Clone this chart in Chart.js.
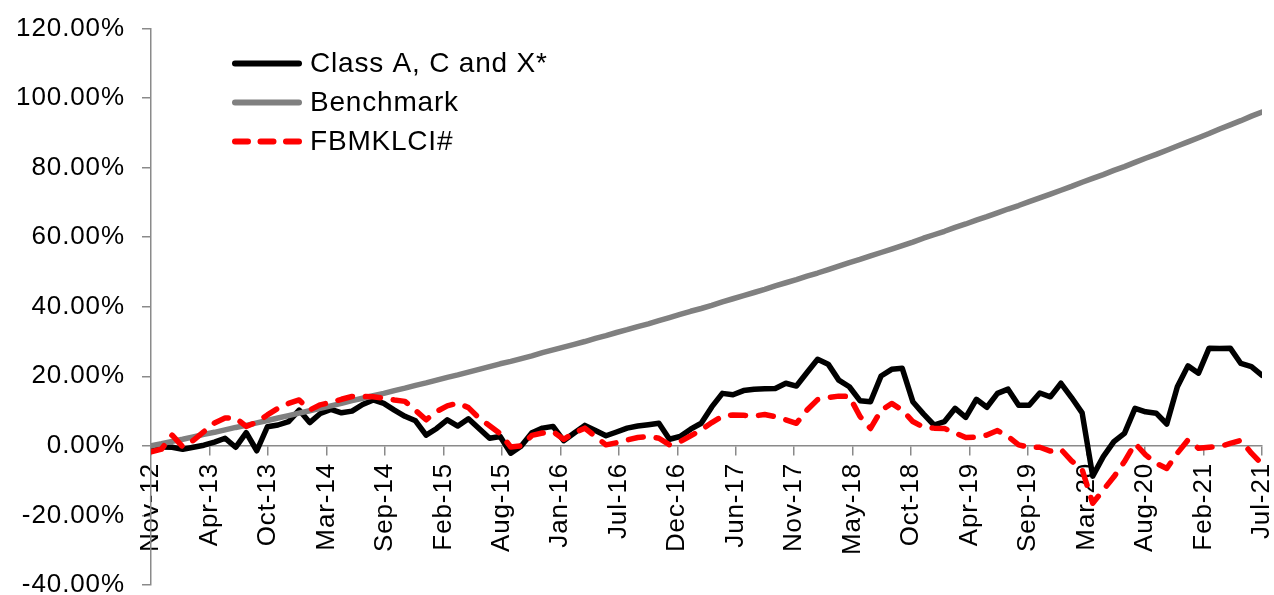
<!DOCTYPE html>
<html>
<head>
<meta charset="utf-8">
<script src="https://cdn.jsdelivr.net/npm/chart.js@4.4.1/dist/chart.umd.min.js"></script>
<style>
  html, body { margin: 0; padding: 0; background: #ffffff; }
  #wrap { width: 1274px; height: 595px; }
</style>
</head>
<body>
<div id="wrap"><canvas id="perf" width="1274" height="595"></canvas></div>
<script>
// Observation dates: inception, then month-ends
const dates = [
  '2012-11-01', '2012-11-30', '2012-12-31',
  '2013-01-31', '2013-02-28', '2013-03-31', '2013-04-30', '2013-05-31', '2013-06-30', '2013-07-31', '2013-08-31', '2013-09-30', '2013-10-31', '2013-11-30', '2013-12-31',
  '2014-01-31', '2014-02-28', '2014-03-31', '2014-04-30', '2014-05-31', '2014-06-30', '2014-07-31', '2014-08-31', '2014-09-30', '2014-10-31', '2014-11-30', '2014-12-31',
  '2015-01-31', '2015-02-28', '2015-03-31', '2015-04-30', '2015-05-31', '2015-06-30', '2015-07-31', '2015-08-31', '2015-09-30', '2015-10-31', '2015-11-30', '2015-12-31',
  '2016-01-31', '2016-02-29', '2016-03-31', '2016-04-30', '2016-05-31', '2016-06-30', '2016-07-31', '2016-08-31', '2016-09-30', '2016-10-31', '2016-11-30', '2016-12-31',
  '2017-01-31', '2017-02-28', '2017-03-31', '2017-04-30', '2017-05-31', '2017-06-30', '2017-07-31', '2017-08-31', '2017-09-30', '2017-10-31', '2017-11-30', '2017-12-31',
  '2018-01-31', '2018-02-28', '2018-03-31', '2018-04-30', '2018-05-31', '2018-06-30', '2018-07-31', '2018-08-31', '2018-09-30', '2018-10-31', '2018-11-30', '2018-12-31',
  '2019-01-31', '2019-02-28', '2019-03-31', '2019-04-30', '2019-05-31', '2019-06-30', '2019-07-31', '2019-08-31', '2019-09-30', '2019-10-31', '2019-11-30', '2019-12-31',
  '2020-01-31', '2020-02-29', '2020-03-31', '2020-04-30', '2020-05-31', '2020-06-30', '2020-07-31', '2020-08-31', '2020-09-30', '2020-10-31', '2020-11-30', '2020-12-31',
  '2021-01-31', '2021-02-28', '2021-03-31', '2021-04-30', '2021-05-31', '2021-06-30', '2021-07-31'
];

// Cumulative return, % since inception
const classACX = [
  0.0, -0.3, -0.4, -1.0, -0.4, 0.2, 1.1, 2.2, -0.4, 3.8,
  -1.4, 5.5, 6.0, 7.0, 10.3, 6.7, 9.3, 10.5, 9.5, 10.0,
  11.9, 13.2, 12.2, 10.3, 8.5, 7.2, 3.1, 5.0, 7.5, 5.7,
  7.8, 5.0, 2.2, 2.7, -2.1, 0.0, 3.8, 5.1, 5.6, 1.5,
  3.7, 5.9, 4.4, 2.9, 4.0, 5.1, 5.7, 6.1, 6.5, 1.9,
  2.7, 4.8, 6.5, 11.2, 15.1, 14.7, 15.9, 16.3, 16.4, 16.5,
  18.0, 17.2, 21.1, 24.9, 23.5, 18.9, 17.0, 13.0, 12.7, 20.1,
  22.0, 22.3, 12.7, 9.2, 6.0, 7.0, 10.8, 8.2, 13.4, 11.1,
  15.1, 16.3, 11.7, 11.7, 15.2, 14.1, 18.0, 13.9, 9.5, -8.7,
  -3.1, 1.2, 3.6, 10.8, 9.8, 9.4, 6.3, 17.0, 23.0, 20.9,
  28.1, 28.0, 28.1, 23.7, 22.8, 20.3
];

const benchmark = [
  0.0, 0.6, 1.3, 1.9, 2.6, 3.3, 3.9, 4.6, 5.3, 5.9,
  6.6, 7.3, 8.0, 8.7, 9.4, 10.1, 10.8, 11.5, 12.2, 13.0,
  13.7, 14.4, 15.1, 15.9, 16.6, 17.4, 18.1, 18.9, 19.7, 20.4,
  21.2, 22.0, 22.8, 23.6, 24.3, 25.1, 25.9, 26.8, 27.6, 28.4,
  29.2, 30.0, 30.9, 31.7, 32.6, 33.4, 34.3, 35.1, 36.0, 36.9,
  37.8, 38.7, 39.5, 40.4, 41.4, 42.3, 43.2, 44.1, 45.0, 46.0,
  46.9, 47.8, 48.8, 49.7, 50.7, 51.7, 52.7, 53.6, 54.6, 55.6,
  56.6, 57.6, 58.6, 59.7, 60.7, 61.7, 62.8, 63.8, 64.9, 65.9,
  67.0, 68.1, 69.1, 70.2, 71.3, 72.4, 73.5, 74.6, 75.8, 76.9,
  78.0, 79.2, 80.3, 81.5, 82.7, 83.8, 85.0, 86.2, 87.4, 88.6,
  89.8, 91.1, 92.3, 93.5, 94.8, 96.0
];

const fbmklci = [
  -1.7, -0.9, 3.1, -0.3, 1.6, 4.1, 6.6, 8.0, 8.0, 5.6,
  6.8, 8.9, 10.8, 12.2, 13.2, 10.3, 11.8, 12.5, 13.4, 14.2,
  14.2, 14.1, 13.7, 13.2, 12.8, 10.2, 7.5, 9.9, 11.5, 12.3,
  11.0, 8.0, 5.8, 3.5, -0.3, 0.0, 3.0, 3.7, 4.1, 1.9,
  3.7, 5.1, 2.7, 0.3, 0.9, 1.7, 2.4, 2.7, 2.2, 0.3,
  1.2, 2.9, 4.6, 6.7, 8.5, 8.9, 8.8, 8.6, 9.0, 8.4,
  7.5, 6.5, 10.3, 13.3, 13.9, 14.3, 14.2, 8.5, 5.0, 10.2,
  12.2, 10.3, 7.0, 5.4, 5.1, 5.0, 3.7, 2.4, 2.5, 3.1,
  4.4, 2.7, 0.3, -0.4, -0.4, -1.5, -1.0, -4.3, -6.8, -16.5,
  -12.7, -8.9, -4.5, 0.7, -2.6, -5.0, -6.5, -2.1, 1.7, -0.7,
  -0.4, -0.2, 0.7, 1.6, -2.1, -5.2
];

const seriesNames = ['Class A, C and X*', 'Benchmark', 'FBMKLCI#'];

const xTickLabels = [
  'Nov-12', 'Apr-13', 'Oct-13', 'Mar-14', 'Sep-14', 'Feb-15', 'Aug-15', 'Jan-16', 'Jul-16', 'Dec-16',
  'Jun-17', 'Nov-17', 'May-18', 'Oct-18', 'Apr-19', 'Sep-19', 'Mar-20', 'Aug-20', 'Feb-21', 'Jul-21'
];
const yTickValues = [-40, -20, 0, 20, 40, 60, 80, 100, 120];

// ---- drawing ----
const FONT = '"Liberation Sans", Arial, Helvetica, sans-serif';
const AXIS_GREY = '#8a8a8a';

const toPoints = arr => arr.map((v, i) => ({ x: i, y: v }));
const lastIndex = dates.length - 1;
const tickStep = lastIndex / (xTickLabels.length - 1);

// Slightly wider glyph spacing for the axis text
const textSpacing = {
  id: 'textSpacing',
  beforeDraw(chart) { chart.ctx.letterSpacing = '0.9px'; }
};

// Legend drawn inside the plot, top-left, with long line samples
const lineLegend = {
  id: 'lineLegend',
  afterDraw(chart) {
    const ctx = chart.ctx;
    const area = chart.chartArea;
    const x0 = area.left + 81;
    const y0 = area.top + 35;
    const rowGap = 39;
    chart.data.datasets.forEach((ds, i) => {
      const y = y0 + i * rowGap;
      ctx.save();
      ctx.lineWidth = 6;
      ctx.lineCap = 'round';
      ctx.strokeStyle = ds.borderColor;
      ctx.setLineDash(ds.borderDash ? [13, 12.5] : []);
      ctx.beginPath();
      ctx.moveTo(x0 + 3, y);
      ctx.lineTo(x0 + 67, y);
      ctx.stroke();
      ctx.setLineDash([]);
      ctx.letterSpacing = '0.8px';
      ctx.font = '28px ' + FONT;
      ctx.fillStyle = '#000000';
      ctx.textAlign = 'left';
      ctx.textBaseline = 'middle';
      ctx.fillText(ds.label, x0 + 78, y + 1);
      ctx.restore();
    });
  }
};

new Chart(document.getElementById('perf'), {
  type: 'line',
  data: {
    labels: dates,
    datasets: [
      {
        label: seriesNames[0],
        data: toPoints(classACX),
        borderColor: '#000000',
        borderWidth: 5.5,
        order: 3
      },
      {
        label: seriesNames[1],
        data: toPoints(benchmark),
        borderColor: '#808080',
        borderWidth: 5.5,
        order: 2
      },
      {
        label: seriesNames[2],
        data: toPoints(fbmklci),
        borderColor: '#ff0000',
        borderWidth: 5.5,
        borderDash: [15, 13],
        order: 1
      }
    ]
  },
  options: {
    responsive: false,
    animation: false,
    devicePixelRatio: 1,
    layout: { padding: { left: 0, right: 12, top: 28.5, bottom: 10 } },
    elements: {
      point: { radius: 0, hoverRadius: 0 },
      line: { tension: 0, fill: false, borderCapStyle: 'round', borderJoinStyle: 'round' }
    },
    plugins: {
      legend: { display: false },
      tooltip: { enabled: false }
    },
    events: [],
    scales: {
      x: {
        type: 'linear',
        min: 0,
        max: lastIndex,
        position: { y: 0 },
        grid: { drawOnChartArea: false, drawTicks: true, tickLength: 9, color: AXIS_GREY, lineWidth: 1.5 },
        border: { display: true, color: AXIS_GREY, width: 1.5 },
        ticks: {
          autoSkip: false,
          minRotation: 90,
          maxRotation: 90,
          padding: 8,
          color: '#000000',
          font: { family: FONT, size: 26 },
          callback: (value, index) => xTickLabels[index]
        },
        afterBuildTicks: scale => {
          scale.ticks = xTickLabels.map((_, k) => ({ value: k * tickStep }));
        },
        afterFit: scale => {
          scale.height = 0;
          scale.paddingLeft = 0;
          scale.paddingRight = 0;
        }
      },
      y: {
        type: 'linear',
        min: yTickValues[0],
        max: yTickValues[yTickValues.length - 1],
        grid: { drawOnChartArea: false, drawTicks: true, tickLength: 9, color: AXIS_GREY, lineWidth: 1.5 },
        border: { display: true, color: AXIS_GREY, width: 1.5 },
        ticks: {
          padding: 17,
          color: '#000000',
          font: { family: FONT, size: 26 },
          callback: value => value.toFixed(2) + '%'
        },
        afterBuildTicks: scale => {
          scale.ticks = yTickValues.map(v => ({ value: v }));
        },
        afterFit: scale => {
          scale.width = 151;
          scale.paddingTop = 0;
          scale.paddingBottom = 0;
        }
      }
    }
  },
  plugins: [textSpacing, lineLegend]
});
</script>
</body>
</html>
